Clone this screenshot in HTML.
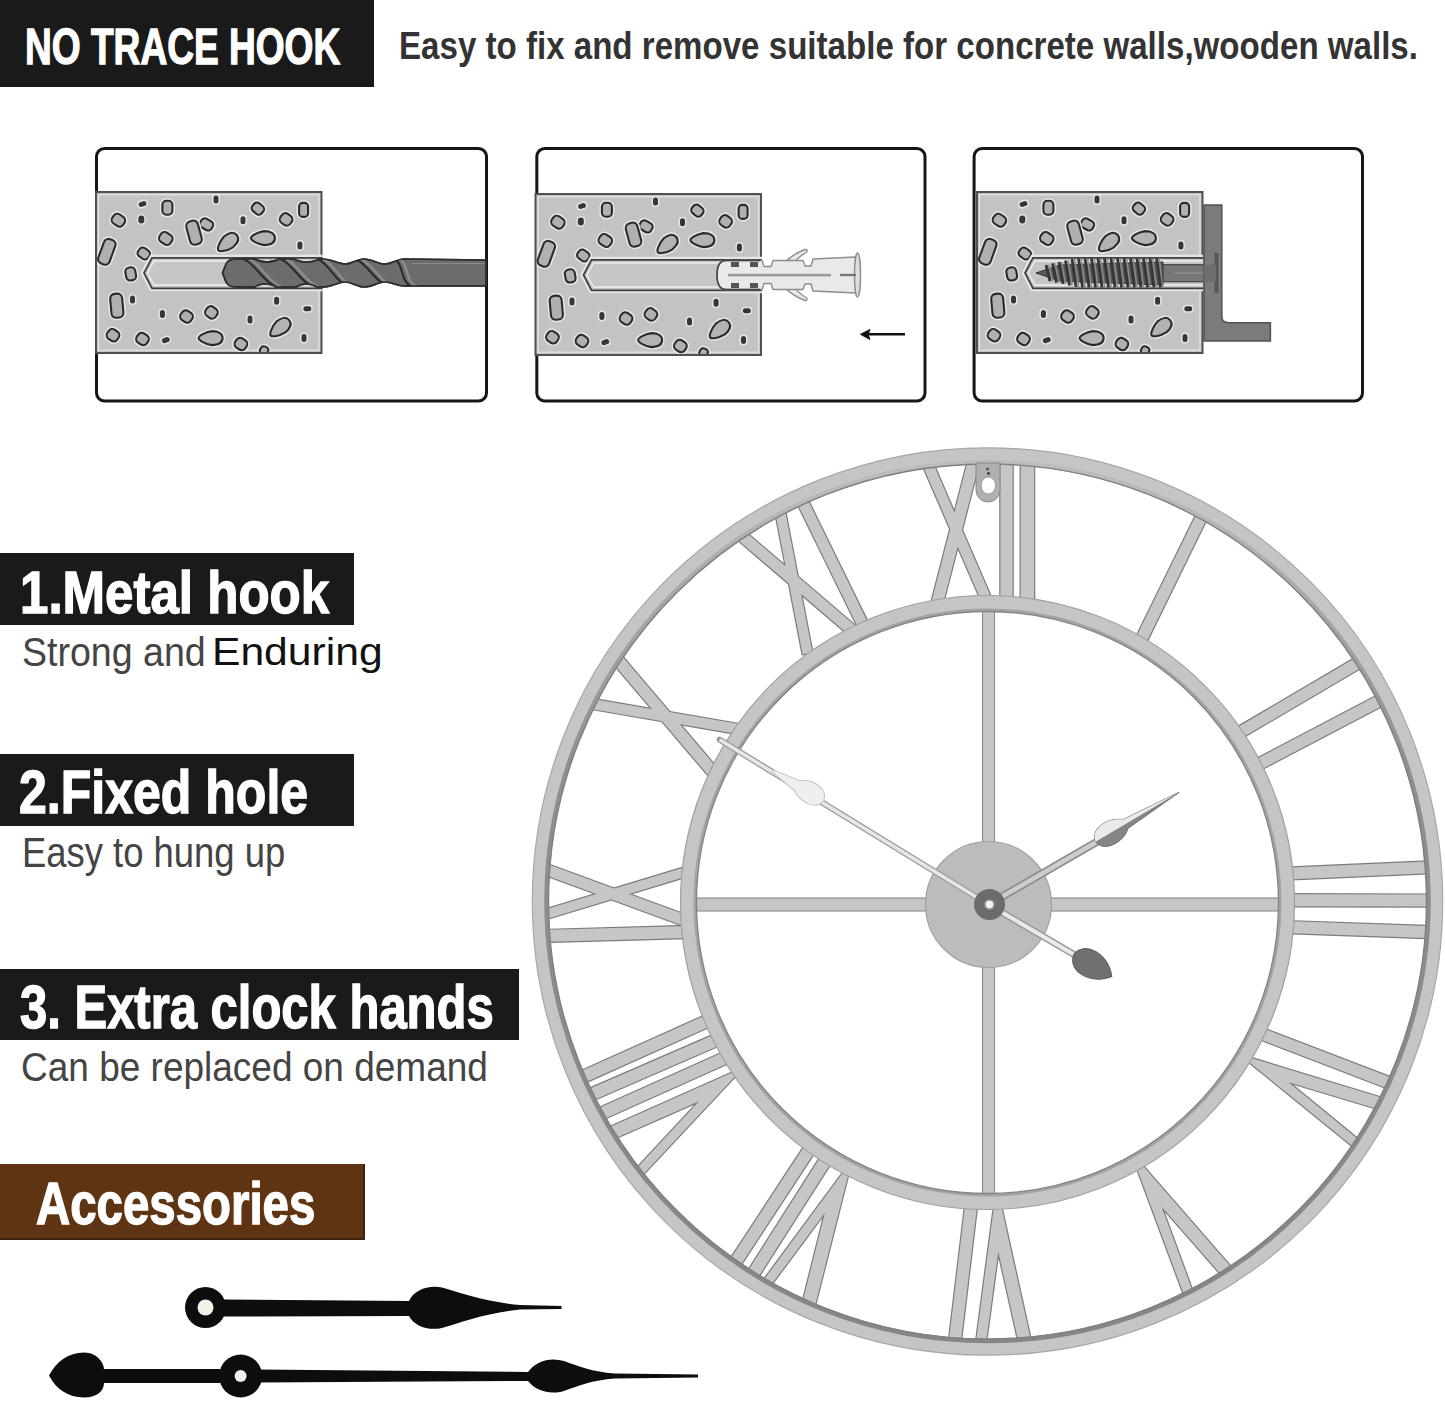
<!DOCTYPE html>
<html><head><meta charset="utf-8"><style>
html,body{margin:0;padding:0;background:#fff;}
body{width:1445px;height:1402px;position:relative;overflow:hidden;font-family:"Liberation Sans",sans-serif;}
svg{position:absolute;left:0;top:0;}
</style></head><body>
<div style="position:absolute;left:0px;top:0px;width:374px;height:87px;background:#1a1a1a"></div><div style="position:absolute;left:25.4px;top:18.3px;font-size:49.42px;font-weight:bold;color:#fff;white-space:pre;line-height:normal;transform:scaleX(0.7507);transform-origin:0 0;-webkit-text-stroke:1.3px #fff;">NO TRACE HOOK</div><div style="position:absolute;left:399.2px;top:24.3px;font-size:38.95px;font-weight:bold;color:#333;white-space:pre;line-height:normal;transform:scaleX(0.8500);transform-origin:0 0;">Easy to fix and remove suitable for concrete walls,wooden walls.</div><div style="position:absolute;left:0px;top:553px;width:354px;height:72px;background:#1a1a1a"></div><div style="position:absolute;left:20.3px;top:558.0px;font-size:60.03px;font-weight:bold;color:#fff;white-space:pre;line-height:normal;transform:scaleX(0.8504);transform-origin:0 0;-webkit-text-stroke:1.4px #fff;">1.Metal hook</div><div style="position:absolute;left:21.9px;top:628.8px;font-size:41.28px;font-weight:normal;color:#444;white-space:pre;line-height:normal;transform:scaleX(0.9100);transform-origin:0 0;">Strong and</div><div style="position:absolute;left:212.1px;top:629.5px;font-size:38.23px;font-weight:normal;color:#111;white-space:pre;line-height:normal;transform:scaleX(1.1150);transform-origin:0 0;">Enduring</div><div style="position:absolute;left:0px;top:754px;width:354px;height:72px;background:#1a1a1a"></div><div style="position:absolute;left:19.4px;top:756.8px;font-size:61.05px;font-weight:bold;color:#fff;white-space:pre;line-height:normal;transform:scaleX(0.8195);transform-origin:0 0;-webkit-text-stroke:1.4px #fff;">2.Fixed hole</div><div style="position:absolute;left:21.6px;top:828.7px;font-size:42.01px;font-weight:normal;color:#444;white-space:pre;line-height:normal;transform:scaleX(0.8672);transform-origin:0 0;">Easy to hung up</div><div style="position:absolute;left:0px;top:969px;width:519px;height:71px;background:#1a1a1a"></div><div style="position:absolute;left:19.7px;top:971.7px;font-size:60.76px;font-weight:bold;color:#fff;white-space:pre;line-height:normal;transform:scaleX(0.8063);transform-origin:0 0;-webkit-text-stroke:1.4px #fff;">3. Extra clock hands</div><div style="position:absolute;left:21.4px;top:1043.9px;font-size:41.28px;font-weight:normal;color:#444;white-space:pre;line-height:normal;transform:scaleX(0.8965);transform-origin:0 0;">Can be replaced on demand</div><div style="position:absolute;left:0px;top:1164px;width:365px;height:75.5px;background:#5e3413"></div><div style="position:absolute;left:363px;top:1164px;width:2px;height:75.5px;background:#3a2410"></div><div style="position:absolute;left:0;top:1237.5px;width:365px;height:2px;background:#3a2410"></div><div style="position:absolute;left:36.0px;top:1169.0px;font-size:59.16px;font-weight:bold;color:#fff;white-space:pre;line-height:normal;transform:scaleX(0.8012);transform-origin:0 0;-webkit-text-stroke:1.4px #fff;">Accessories</div><svg width="1445" height="410" viewBox="0 0 1445 410" style="position:absolute;left:0;top:0"><defs><g id="blk"><rect x="0" y="0" width="225.5" height="161" fill="#c3c3c3"/><rect x="2.5" y="2.8" width="220.5" height="155.4" fill="none" stroke="#e4e4e4" stroke-width="1.2"/><clipPath id="bclip"><rect x="0" y="0" width="225.5" height="161"/></clipPath><g clip-path="url(#bclip)"><g transform="translate(46.5,12) rotate(-20)"><rect x="-5.5" y="-4" width="11" height="8" rx="4" fill="#e6e6e6"/><rect x="-4" y="-2.5" width="8" height="5" rx="2.5" fill="#363636"/></g><g transform="translate(71.4,15.8) rotate(0)"><rect x="-5" y="-7" width="10" height="14" rx="4" fill="#c0c0c0" stroke="#e8e8e8" stroke-width="5"/><rect x="-5" y="-7" width="10" height="14" rx="4" fill="#b0b0b0" stroke="#2b2b2b" stroke-width="2.1"/></g><g transform="translate(120,7.5) rotate(0)"><rect x="-4" y="-5.5" width="8" height="11" rx="4" fill="#e6e6e6"/><rect x="-2.5" y="-4" width="5" height="8" rx="2.5" fill="#363636"/></g><g transform="translate(161.9,16.6) rotate(40)"><rect x="-6" y="-5" width="12" height="10" rx="4" fill="#c0c0c0" stroke="#e8e8e8" stroke-width="5"/><rect x="-6" y="-5" width="12" height="10" rx="4" fill="#b0b0b0" stroke="#2b2b2b" stroke-width="2.1"/></g><g transform="translate(207.6,17.9) rotate(0)"><rect x="-4.5" y="-7" width="9" height="14" rx="3.6" fill="#c0c0c0" stroke="#e8e8e8" stroke-width="5"/><rect x="-4.5" y="-7" width="9" height="14" rx="3.6" fill="#b0b0b0" stroke="#2b2b2b" stroke-width="2.1"/></g><g transform="translate(22.4,28.2) rotate(35)"><rect x="-6.5" y="-5.5" width="13" height="11" rx="4.4" fill="#c0c0c0" stroke="#e8e8e8" stroke-width="5"/><rect x="-6.5" y="-5.5" width="13" height="11" rx="4.4" fill="#b0b0b0" stroke="#2b2b2b" stroke-width="2.1"/></g><g transform="translate(45.3,27.4) rotate(0)"><rect x="-4.5" y="-5.5" width="9" height="11" rx="4.5" fill="#e6e6e6"/><rect x="-3" y="-4" width="6" height="8" rx="3" fill="#363636"/></g><g transform="translate(147,28.2) rotate(0)"><rect x="-4" y="-5.5" width="8" height="11" rx="4" fill="#e6e6e6"/><rect x="-2.5" y="-4" width="5" height="8" rx="2.5" fill="#363636"/></g><g transform="translate(190.1,27.4) rotate(35)"><rect x="-6" y="-5.5" width="12" height="11" rx="4.4" fill="#c0c0c0" stroke="#e8e8e8" stroke-width="5"/><rect x="-6" y="-5.5" width="12" height="11" rx="4.4" fill="#b0b0b0" stroke="#2b2b2b" stroke-width="2.1"/></g><g transform="translate(110.5,32.4) rotate(30)"><rect x="-6.5" y="-5" width="13" height="10" rx="4" fill="#c0c0c0" stroke="#e8e8e8" stroke-width="5"/><rect x="-6.5" y="-5" width="13" height="10" rx="4" fill="#b0b0b0" stroke="#2b2b2b" stroke-width="2.1"/></g><g transform="translate(98,40.7) rotate(-15)"><rect x="-6" y="-12" width="12" height="24" rx="4.8" fill="#c0c0c0" stroke="#e8e8e8" stroke-width="5"/><rect x="-6" y="-12" width="12" height="24" rx="4.8" fill="#b0b0b0" stroke="#2b2b2b" stroke-width="2.1"/></g><g transform="translate(69.8,46.5) rotate(35)"><rect x="-6.5" y="-5.5" width="13" height="11" rx="4.4" fill="#c0c0c0" stroke="#e8e8e8" stroke-width="5"/><rect x="-6.5" y="-5.5" width="13" height="11" rx="4.4" fill="#b0b0b0" stroke="#2b2b2b" stroke-width="2.1"/></g><g transform="translate(131.6,50.7) rotate(-40)"><path d="M-12,0 C-12,-2.4 -5.4,-6 1.2,-7 C8.4,-7 12,-4.2 12,0 C12,4.2 8.4,7 1.2,7 C-5.4,6 -12,2.4 -12,0 Z" fill="#b9b9b9" stroke="#e8e8e8" stroke-width="5"/><path d="M-12,0 C-12,-2.4 -5.4,-6 1.2,-7 C8.4,-7 12,-4.2 12,0 C12,4.2 8.4,7 1.2,7 C-5.4,6 -12,2.4 -12,0 Z" fill="#b3b3b3" stroke="#2b2b2b" stroke-width="2.1"/></g><g transform="translate(166.9,46.1) rotate(0)"><path d="M-12,0 C-12,-2.4 -5.4,-6 1.2,-7 C8.4,-7 12,-4.2 12,0 C12,4.2 8.4,7 1.2,7 C-5.4,6 -12,2.4 -12,0 Z" fill="#b9b9b9" stroke="#e8e8e8" stroke-width="5"/><path d="M-12,0 C-12,-2.4 -5.4,-6 1.2,-7 C8.4,-7 12,-4.2 12,0 C12,4.2 8.4,7 1.2,7 C-5.4,6 -12,2.4 -12,0 Z" fill="#b3b3b3" stroke="#2b2b2b" stroke-width="2.1"/></g><g transform="translate(203.9,53.6) rotate(0)"><rect x="-4" y="-5.5" width="8" height="11" rx="4" fill="#e6e6e6"/><rect x="-2.5" y="-4" width="5" height="8" rx="2.5" fill="#363636"/></g><g transform="translate(10.8,59.8) rotate(20)"><rect x="-6" y="-13" width="12" height="26" rx="4.8" fill="#c0c0c0" stroke="#e8e8e8" stroke-width="5"/><rect x="-6" y="-13" width="12" height="26" rx="4.8" fill="#b0b0b0" stroke="#2b2b2b" stroke-width="2.1"/></g><g transform="translate(47.8,61.5) rotate(35)"><rect x="-6" y="-5" width="12" height="10" rx="4" fill="#c0c0c0" stroke="#e8e8e8" stroke-width="5"/><rect x="-6" y="-5" width="12" height="10" rx="4" fill="#b0b0b0" stroke="#2b2b2b" stroke-width="2.1"/></g><g transform="translate(34.7,81.9) rotate(-10)"><rect x="-5" y="-6.5" width="10" height="13" rx="4" fill="#c0c0c0" stroke="#e8e8e8" stroke-width="5"/><rect x="-5" y="-6.5" width="10" height="13" rx="4" fill="#b0b0b0" stroke="#2b2b2b" stroke-width="2.1"/></g><g transform="translate(20.8,113.7) rotate(-5)"><rect x="-6" y="-12" width="12" height="24" rx="4.8" fill="#c0c0c0" stroke="#e8e8e8" stroke-width="5"/><rect x="-6" y="-12" width="12" height="24" rx="4.8" fill="#b0b0b0" stroke="#2b2b2b" stroke-width="2.1"/></g><g transform="translate(36.5,107.5) rotate(0)"><rect x="-4" y="-5.5" width="8" height="11" rx="4" fill="#e6e6e6"/><rect x="-2.5" y="-4" width="5" height="8" rx="2.5" fill="#363636"/></g><g transform="translate(66.4,122) rotate(0)"><rect x="-4" y="-5.5" width="8" height="11" rx="4" fill="#e6e6e6"/><rect x="-2.5" y="-4" width="5" height="8" rx="2.5" fill="#363636"/></g><g transform="translate(90.5,124.5) rotate(35)"><rect x="-6" y="-5.5" width="12" height="11" rx="4.4" fill="#c0c0c0" stroke="#e8e8e8" stroke-width="5"/><rect x="-6" y="-5.5" width="12" height="11" rx="4.4" fill="#b0b0b0" stroke="#2b2b2b" stroke-width="2.1"/></g><g transform="translate(115.4,120.4) rotate(35)"><rect x="-6" y="-5.5" width="12" height="11" rx="4.4" fill="#c0c0c0" stroke="#e8e8e8" stroke-width="5"/><rect x="-6" y="-5.5" width="12" height="11" rx="4.4" fill="#b0b0b0" stroke="#2b2b2b" stroke-width="2.1"/></g><g transform="translate(17,143.2) rotate(35)"><rect x="-6" y="-5.5" width="12" height="11" rx="4.4" fill="#c0c0c0" stroke="#e8e8e8" stroke-width="5"/><rect x="-6" y="-5.5" width="12" height="11" rx="4.4" fill="#b0b0b0" stroke="#2b2b2b" stroke-width="2.1"/></g><g transform="translate(46.5,147) rotate(35)"><rect x="-6" y="-5.5" width="12" height="11" rx="4.4" fill="#c0c0c0" stroke="#e8e8e8" stroke-width="5"/><rect x="-6" y="-5.5" width="12" height="11" rx="4.4" fill="#b0b0b0" stroke="#2b2b2b" stroke-width="2.1"/></g><g transform="translate(69.8,148.2) rotate(-20)"><rect x="-5.5" y="-4" width="11" height="8" rx="4" fill="#e6e6e6"/><rect x="-4" y="-2.5" width="8" height="5" rx="2.5" fill="#363636"/></g><g transform="translate(114.6,146.1) rotate(0)"><path d="M-12,0 C-12,-2.4 -5.4,-6 1.2,-7 C8.4,-7 12,-4.2 12,0 C12,4.2 8.4,7 1.2,7 C-5.4,6 -12,2.4 -12,0 Z" fill="#b9b9b9" stroke="#e8e8e8" stroke-width="5"/><path d="M-12,0 C-12,-2.4 -5.4,-6 1.2,-7 C8.4,-7 12,-4.2 12,0 C12,4.2 8.4,7 1.2,7 C-5.4,6 -12,2.4 -12,0 Z" fill="#b3b3b3" stroke="#2b2b2b" stroke-width="2.1"/></g><g transform="translate(180.6,108.8) rotate(0)"><rect x="-4" y="-5.5" width="8" height="11" rx="4" fill="#e6e6e6"/><rect x="-2.5" y="-4" width="5" height="8" rx="2.5" fill="#363636"/></g><g transform="translate(211.3,116.7) rotate(0)"><rect x="-5.5" y="-4" width="11" height="8" rx="4" fill="#e6e6e6"/><rect x="-4" y="-2.5" width="8" height="5" rx="2.5" fill="#363636"/></g><g transform="translate(154,127.5) rotate(0)"><rect x="-4" y="-5.5" width="8" height="11" rx="4" fill="#e6e6e6"/><rect x="-2.5" y="-4" width="5" height="8" rx="2.5" fill="#363636"/></g><g transform="translate(183.9,135.8) rotate(-40)"><path d="M-12,0 C-12,-2.4 -5.4,-6 1.2,-7 C8.4,-7 12,-4.2 12,0 C12,4.2 8.4,7 1.2,7 C-5.4,6 -12,2.4 -12,0 Z" fill="#b9b9b9" stroke="#e8e8e8" stroke-width="5"/><path d="M-12,0 C-12,-2.4 -5.4,-6 1.2,-7 C8.4,-7 12,-4.2 12,0 C12,4.2 8.4,7 1.2,7 C-5.4,6 -12,2.4 -12,0 Z" fill="#b3b3b3" stroke="#2b2b2b" stroke-width="2.1"/></g><g transform="translate(208,146.1) rotate(0)"><rect x="-4" y="-5.5" width="8" height="11" rx="4" fill="#e6e6e6"/><rect x="-2.5" y="-4" width="5" height="8" rx="2.5" fill="#363636"/></g><g transform="translate(144.9,152) rotate(35)"><rect x="-6" y="-5.5" width="12" height="11" rx="4.4" fill="#c0c0c0" stroke="#e8e8e8" stroke-width="5"/><rect x="-6" y="-5.5" width="12" height="11" rx="4.4" fill="#b0b0b0" stroke="#2b2b2b" stroke-width="2.1"/></g><g transform="translate(168.1,158.5) rotate(30)"><rect x="-4" y="-4" width="8" height="8" rx="3.2" fill="#c0c0c0" stroke="#e8e8e8" stroke-width="5"/><rect x="-4" y="-4" width="8" height="8" rx="3.2" fill="#b0b0b0" stroke="#2b2b2b" stroke-width="2.1"/></g></g><rect x="0" y="0" width="225.5" height="161" fill="none" stroke="#505050" stroke-width="2"/><path d="M226.5,65.8 L56,65.8 L48,81 L56,96.3 L226.5,96.3" fill="#c9c9c9" stroke="#e6e6e6" stroke-width="6"/><path d="M226.5,65.8 L56,65.8 L48,81 L56,96.3 L226.5,96.3" fill="#c6c6c6" stroke="#404040" stroke-width="1.8"/><path d="M225.5,69 L58,69 L51.5,81 L58,93 L225.5,93" fill="none" stroke="#f0f0f0" stroke-width="1.3"/></g></defs><rect x="96.5" y="148.5" width="390" height="252.5" rx="8" fill="#fff" stroke="#161616" stroke-width="3"/><rect x="536.8" y="148.5" width="388.2" height="252.5" rx="8" fill="#fff" stroke="#161616" stroke-width="3"/><rect x="974.1" y="148.5" width="388.4" height="252.5" rx="8" fill="#fff" stroke="#161616" stroke-width="3"/><use href="#blk" x="96" y="192"/><g><clipPath id="drc"><path d="M222.5,273 L226,264 C228,260 231,259 236,259 L255,259 C262,263 272,263 279,259 L294,259 C301,263 312,263 319,259 L322,259 C332,259 338,264 345,264 C352,264 357,259 364,259 C372,259 378,264 385,264 C392,264 397,259 404,259 L486,260 L486,286 L404,286 C397,286 392,282 385,282 C378,282 372,287 364,287 C357,287 352,282 345,282 C338,282 332,287 322,287 L317,287 C311,283 302,283 296,287 L276,287 C270,283 260,283 255,287 L236,287 C231,287 228,286 226,282 Z"/></clipPath><path d="M222.5,273 L226,264 C228,260 231,259 236,259 L255,259 C262,263 272,263 279,259 L294,259 C301,263 312,263 319,259 L322,259 C332,259 338,264 345,264 C352,264 357,259 364,259 C372,259 378,264 385,264 C392,264 397,259 404,259 L486,260 L486,286 L404,286 C397,286 392,282 385,282 C378,282 372,287 364,287 C357,287 352,282 345,282 C338,282 332,287 322,287 L317,287 C311,283 302,283 296,287 L276,287 C270,283 260,283 255,287 L236,287 C231,287 228,286 226,282 Z" fill="#6c6c6c" stroke="#2f2f2f" stroke-width="1.6" stroke-linejoin="round"/><g clip-path="url(#drc)"><path d="M244,259.5 C254,262 264,283 276,286.5 M281,259.5 C291,262 301,283 313,286.5 M318,259.5 C328,262 336,283 348,286.5 M356,259.5 C366,262 376,283 388,286.5 M394,259.5 C404,262 400,283 412,286.5 " fill="none" stroke="#2a2a2a" stroke-width="2"/><path d="M244,259.5 C254,262 264,283 276,286.5 M281,259.5 C291,262 301,283 313,286.5 M318,259.5 C328,262 336,283 348,286.5 M356,259.5 C366,262 376,283 388,286.5 M394,259.5 C404,262 400,283 412,286.5 " transform="translate(5,0)" fill="none" stroke="#8a8a8a" stroke-width="2.6"/></g><path d="M222.5,273 L226,264 C228,260 231,259 236,259 L255,259 C262,263 272,263 279,259 L294,259 C301,263 312,263 319,259 L322,259 C332,259 338,264 345,264 C352,264 357,259 364,259 C372,259 378,264 385,264 C392,264 397,259 404,259 L486,260 L486,286 L404,286 C397,286 392,282 385,282 C378,282 372,287 364,287 C357,287 352,282 345,282 C338,282 332,287 322,287 L317,287 C311,283 302,283 296,287 L276,287 C270,283 260,283 255,287 L236,287 C231,287 228,286 226,282 Z" fill="none" stroke="#2f2f2f" stroke-width="1.6" stroke-linejoin="round"/><line x1="412" y1="263.5" x2="485" y2="263.5" stroke="#8a8a8a" stroke-width="1.2"/></g><use href="#blk" x="535.5" y="194"/><g fill="#e9e9e9" stroke="#8d8d8d" stroke-width="1.4" stroke-linejoin="round"><path d="M784,263 C790,257 798,252 805,249.5 C807,249 808,251 806,252.5 C800,256 795,261 792,266 Z"/><path d="M784,287 C790,293 798,298 805,300.5 C807,301 808,299 806,297.5 C800,294 795,289 792,284 Z"/><path d="M726,260.5 L762,260.5 L764,266.5 L771,266.5 L773,260.5 L803,260.5 L805,266 L811,266 L813,259 L856,257 L856,293 L813,291 L811,284 L805,284 L803,289.5 L773,289.5 L771,283.5 L764,283.5 L762,289.5 L726,289.5 Q717,289.5 717,275 Q717,260.5 726,260.5 Z"/><ellipse cx="857.5" cy="275" rx="3" ry="22" fill="#dedede"/></g><g fill="#555" stroke="none"><rect x="728" y="273.8" width="103" height="2.6" fill="#9a9a9a"/><rect x="840" y="273.8" width="16" height="2.4" fill="#777"/><rect x="731" y="262" width="8" height="5"/><rect x="731" y="283" width="8" height="5"/><rect x="750" y="262" width="8" height="5"/><rect x="750" y="283" width="8" height="5"/><path d="M726,260.5 L760,260.5 M726,289.5 L760,289.5 M726,260.5 Q717,260.5 717,275 Q717,289.5 726,289.5" fill="none" stroke="#444" stroke-width="1.6"/></g><line x1="868" y1="334.3" x2="905" y2="334.3" stroke="#111" stroke-width="2.6"/><path d="M860.5,334.3 L870,329.5 L868,334.3 L870,339.5 Z" fill="#111" stroke="#111" stroke-width="1"/><use href="#blk" x="977" y="192"/><path d="M1036,273 L1060,265 L1163,262 L1163,285 L1060,281 Z" fill="#5a5a5a" stroke="#333" stroke-width="1"/><path d="M1046,264.8 L1050,281.2 M1052.5,263.4 L1056.5,282.6 M1059,261.9 L1063,284.1 M1065.5,260.5 L1069.5,285.5 M1072,259.1 L1076,286.9 M1078.5,258.5 L1082.5,287.5 M1085,258.5 L1089,287.5 M1091.5,258.5 L1095.5,287.5 M1098,258.5 L1102,287.5 M1104.5,258.5 L1108.5,287.5 M1111,258.5 L1115,287.5 M1117.5,258.5 L1121.5,287.5 M1124,258.5 L1128,287.5 M1130.5,258.5 L1134.5,287.5 M1137,258.5 L1141,287.5 M1143.5,258.5 L1147.5,287.5 M1150,258.5 L1154,287.5 M1156.5,258.5 L1160.5,287.5 " stroke="#363636" stroke-width="2.8" fill="none"/><path d="M1046,264.8 L1050,281.2 M1052.5,263.4 L1056.5,282.6 M1059,261.9 L1063,284.1 M1065.5,260.5 L1069.5,285.5 M1072,259.1 L1076,286.9 M1078.5,258.5 L1082.5,287.5 M1085,258.5 L1089,287.5 M1091.5,258.5 L1095.5,287.5 M1098,258.5 L1102,287.5 M1104.5,258.5 L1108.5,287.5 M1111,258.5 L1115,287.5 M1117.5,258.5 L1121.5,287.5 M1124,258.5 L1128,287.5 M1130.5,258.5 L1134.5,287.5 M1137,258.5 L1141,287.5 M1143.5,258.5 L1147.5,287.5 M1150,258.5 L1154,287.5 M1156.5,258.5 L1160.5,287.5 " transform="translate(2.6,0)" stroke="#8a8a8a" stroke-width="1.6" fill="none"/><rect x="1163" y="264.7" width="50" height="17" fill="#777" stroke="#444" stroke-width="1.2"/><line x1="1175" y1="273" x2="1212" y2="273" stroke="#999" stroke-width="1.2"/><path d="M1204,205 L1221.8,205 L1221.8,316 Q1221.8,322.7 1228.5,322.7 L1270.4,322.7 L1270.4,341 L1204,341 Z" fill="#7b7b7b" stroke="#505050" stroke-width="1.5"/><rect x="1214.5" y="253" width="4" height="40" fill="#565656"/><rect x="1204" y="264.7" width="12" height="17" fill="#6d6d6d"/></svg><svg width="1445" height="1402" viewBox="0 0 1445 1402" style="position:absolute;left:0;top:0"><defs><clipPath id="band"><path clip-rule="evenodd" d="M987.5,901.5 m-446,0 a446,446 0 1,0 892,0 a446,446 0 1,0 -892,0 Z M987.5,901.5 m-303,0 a303,303 0 1,0 606,0 a303,303 0 1,0 -606,0 Z"/></clipPath></defs><g clip-path="url(#band)" fill="#c6c6c6" stroke="#7c7c7c" stroke-width="2.4" stroke-linejoin="round"><polygon points="992.9,601.5 930.1,456.3 920.5,460.4 983.3,605.6"/><polygon points="942.5,605.4 980.1,459.4 968.9,456.5 931.3,602.5"/><polygon points="1012.6,604 1012.6,455 1000.4,455 1000.4,604"/><polygon points="1034.1,605 1034.1,456 1020.7,456 1020.7,605"/><polygon points="1144.5,646.1 1210.3,511.8 1200,506.8 1134.2,641.1"/><polygon points="1242.1,737.8 1365.4,665.3 1359.6,655.4 1236.3,727.9"/><polygon points="1258.8,770.7 1386,703.9 1380.6,693.7 1253.4,760.5"/><polygon points="1286.5,879.6 1433.9,873.1 1433.3,861.2 1285.9,867.7"/><polygon points="1288,906.2 1434.8,906.6 1434.8,894.6 1288,894.2"/><polygon points="1286,933.1 1433.4,938.3 1433.8,926.3 1286.4,921.1"/><polygon points="1258.9,1039 1391.5,1089.9 1395.6,1079.2 1263,1028.3"/><polygon points="965.5,1201.8 948.4,1345.1 960.3,1346.6 977.4,1203.3"/><polygon points="804.8,1145.4 728.9,1261.2 738.9,1267.8 814.8,1152"/><polygon points="821.1,1156 746.6,1273 756.8,1279.5 831.3,1162.5"/><polygon points="706.6,1014.7 576.7,1073.1 581.7,1084.1 711.6,1025.7"/><polygon points="716.1,1033.7 585,1090.7 589.8,1101.7 720.9,1044.7"/><polygon points="725.5,1051.3 595.5,1109.6 600.5,1120.5 730.5,1062.2"/><polygon points="688.9,916.1 543.1,862.6 539.3,872.9 685.1,926.4"/><polygon points="686.4,866.7 539.1,911.3 541.8,920.4 689.1,875.8"/><polygon points="687.3,926 541.1,930.1 541.5,942.1 687.7,938"/><polygon points="719.7,771.1 619.2,652.8 610.4,660.2 710.9,778.5"/><polygon points="739.3,724.1 590.1,698.5 588.4,708.4 737.6,734"/><polygon points="856.8,627.1 741.8,528.8 734.6,537.2 849.6,635.5"/><polygon points="812.4,652.4 784.3,506.6 774.5,508.5 802.6,654.3"/><polygon points="868.1,622.9 806.2,496.6 796.3,501.4 858.2,627.7"/><polygon points="1239.7,1054.5 1386.9,1099.3 1383.4,1110.7 1288.5,1082.2 1361.4,1141.9 1355.7,1148.8"/><polygon points="1130.9,1152 1186.6,1302.1 1195.5,1298.9 1161.6,1206.7 1223.4,1277.2 1232.8,1269"/><polygon points="996.7,1185.7 975.3,1347.3 985.2,1348.6 998.3,1251.8 1019.6,1347.2 1031.8,1344.4"/><polygon points="851.8,1160.7 814.4,1308.3 801.8,1305.2 824.9,1212.8 769.2,1287.6 762,1282.2"/><polygon points="743.4,1067.5 606.4,1128.5 611.4,1139.9 699,1101.3 634.8,1170.3 641.3,1176.4"/></g><g clip-path="url(#band)" fill="#c6c6c6" stroke="none"><polygon points="992.9,601.5 930.1,456.3 920.5,460.4 983.3,605.6"/><polygon points="942.5,605.4 980.1,459.4 968.9,456.5 931.3,602.5"/><polygon points="1012.6,604 1012.6,455 1000.4,455 1000.4,604"/><polygon points="1034.1,605 1034.1,456 1020.7,456 1020.7,605"/><polygon points="1144.5,646.1 1210.3,511.8 1200,506.8 1134.2,641.1"/><polygon points="1242.1,737.8 1365.4,665.3 1359.6,655.4 1236.3,727.9"/><polygon points="1258.8,770.7 1386,703.9 1380.6,693.7 1253.4,760.5"/><polygon points="1286.5,879.6 1433.9,873.1 1433.3,861.2 1285.9,867.7"/><polygon points="1288,906.2 1434.8,906.6 1434.8,894.6 1288,894.2"/><polygon points="1286,933.1 1433.4,938.3 1433.8,926.3 1286.4,921.1"/><polygon points="1258.9,1039 1391.5,1089.9 1395.6,1079.2 1263,1028.3"/><polygon points="965.5,1201.8 948.4,1345.1 960.3,1346.6 977.4,1203.3"/><polygon points="804.8,1145.4 728.9,1261.2 738.9,1267.8 814.8,1152"/><polygon points="821.1,1156 746.6,1273 756.8,1279.5 831.3,1162.5"/><polygon points="706.6,1014.7 576.7,1073.1 581.7,1084.1 711.6,1025.7"/><polygon points="716.1,1033.7 585,1090.7 589.8,1101.7 720.9,1044.7"/><polygon points="725.5,1051.3 595.5,1109.6 600.5,1120.5 730.5,1062.2"/><polygon points="688.9,916.1 543.1,862.6 539.3,872.9 685.1,926.4"/><polygon points="686.4,866.7 539.1,911.3 541.8,920.4 689.1,875.8"/><polygon points="687.3,926 541.1,930.1 541.5,942.1 687.7,938"/><polygon points="719.7,771.1 619.2,652.8 610.4,660.2 710.9,778.5"/><polygon points="739.3,724.1 590.1,698.5 588.4,708.4 737.6,734"/><polygon points="856.8,627.1 741.8,528.8 734.6,537.2 849.6,635.5"/><polygon points="812.4,652.4 784.3,506.6 774.5,508.5 802.6,654.3"/><polygon points="868.1,622.9 806.2,496.6 796.3,501.4 858.2,627.7"/><polygon points="1239.7,1054.5 1386.9,1099.3 1383.4,1110.7 1288.5,1082.2 1361.4,1141.9 1355.7,1148.8"/><polygon points="1130.9,1152 1186.6,1302.1 1195.5,1298.9 1161.6,1206.7 1223.4,1277.2 1232.8,1269"/><polygon points="996.7,1185.7 975.3,1347.3 985.2,1348.6 998.3,1251.8 1019.6,1347.2 1031.8,1344.4"/><polygon points="851.8,1160.7 814.4,1308.3 801.8,1305.2 824.9,1212.8 769.2,1287.6 762,1282.2"/><polygon points="743.4,1067.5 606.4,1128.5 611.4,1139.9 699,1101.3 634.8,1170.3 641.3,1176.4"/></g><ellipse cx="987.5" cy="901.5" rx="447" ry="445.5" fill="none" stroke="#c5c5c5" stroke-width="16.5"/><ellipse cx="987.5" cy="901.5" rx="455.2" ry="453.7" fill="none" stroke="#a8a8a8" stroke-width="1.2"/><defs><linearGradient id="face" gradientUnits="userSpaceOnUse" x1="0" y1="460" x2="0" y2="1340"><stop offset="0" stop-color="#bdbdbd"/><stop offset="0.35" stop-color="#8f8f8f"/><stop offset="1" stop-color="#868686"/></linearGradient></defs><ellipse cx="987.5" cy="901.5" rx="441" ry="439.5" fill="none" stroke="url(#face)" stroke-width="4.5"/><ellipse cx="987.5" cy="901.5" rx="439" ry="437.5" fill="none" stroke="#808080" stroke-width="1.4"/><rect x="982.5" y="605" width="12" height="595" fill="#c6c6c6" stroke="#8a8a8a" stroke-width="1.1"/><rect x="690" y="898" width="595" height="13" fill="#c6c6c6" stroke="#8a8a8a" stroke-width="1.1"/><circle cx="987.5" cy="902.5" r="299" fill="none" stroke="#c5c5c5" stroke-width="16"/><circle cx="987.5" cy="902.5" r="307" fill="none" stroke="#a0a0a0" stroke-width="1.2"/><circle cx="987.5" cy="902.5" r="292.5" fill="none" stroke="#a2a2a2" stroke-width="3"/><circle cx="987.5" cy="902.5" r="291" fill="none" stroke="#858585" stroke-width="1.3"/><path d="M976,463 L1000,463 L1000,490 A12,12 0 0 1 976,490 Z" fill="#b0b0b0" stroke="#888" stroke-width="1"/><ellipse cx="988.3" cy="485.5" rx="7.3" ry="8.6" fill="#fff" stroke="#999" stroke-width="1"/><circle cx="987.5" cy="469" r="1.3" fill="#444"/><circle cx="988.5" cy="473.5" r="1.4" fill="#3a3a3a"/><circle cx="988.5" cy="904.5" r="63" fill="#bcbcbc" stroke="#a0a0a0" stroke-width="1.2"/><line x1="988.5" y1="904.5" x2="719.7" y2="739.7" stroke="#9a9a9a" stroke-width="6" stroke-linecap="round"/><line x1="988.5" y1="904.5" x2="719.7" y2="739.7" stroke="#e6e6e6" stroke-width="3.6"/><g transform="translate(805,791) rotate(-148.5)"><path d="M-21,1 C-19,-11 -2,-12 10,-5 L38,-1 L38,1.5 L10,6 C-2,15 -19,14 -21,1 Z" fill="#efefef" stroke="#c4c4c4" stroke-width="1"/></g><line x1="988.5" y1="904.5" x2="1080" y2="958" stroke="#9a9a9a" stroke-width="7"/><line x1="988.5" y1="904.5" x2="1080" y2="958" stroke="#eaeaea" stroke-width="4"/><g transform="translate(1092,965) rotate(30.4)"><path d="M-21,0 C-19,-17 8,-19 23,0 C8,19 -19,17 -21,0 Z" fill="#707070" stroke="#5e5e5e" stroke-width="1"/></g><line x1="988.5" y1="904.5" x2="1100" y2="840" stroke="#8e8e8e" stroke-width="8"/><line x1="988.5" y1="904.5" x2="1100" y2="840" stroke="#cdcdcd" stroke-width="4.5"/><g transform="translate(1112,832) rotate(-30.6)"><path d="M-19,0 C-17,-14 4,-15 16,-5 L78,0 L16,5 C4,15 -17,14 -19,0 Z" fill="#858585" stroke="#777" stroke-width="1"/><path d="M-19,0 C-17,-14 4,-15 16,-5 L78,0 Z" fill="#eaeaea"/></g><circle cx="989.5" cy="904.5" r="15.5" fill="#6c6c6c"/><circle cx="989.5" cy="904.5" r="4.5" fill="#f4f4f4" stroke="#999" stroke-width="1.6"/></svg><svg width="1445" height="1402" viewBox="0 0 1445 1402" style="position:absolute;left:0;top:0"><g fill="#0d0d0d"><circle cx="205.5" cy="1307.5" r="20.5"/><path d="M222,1299.5 L409,1301 C414,1290 428,1285 442,1287.5 C462,1293 486,1302 520,1305 L561.5,1306 L561.5,1309 L520,1309.5 C486,1313 462,1322 442,1328 C428,1331 414,1326 409,1316 L222,1316.5 Z"/><path d="M49,1375.5 C56,1362 68,1352.5 84,1352.5 C98,1352.5 104,1364 104,1369 L220,1369 L220,1383 L104,1383 C104,1390 98,1397.5 84,1397.5 C68,1397.5 56,1389 49,1375.5 Z"/><circle cx="240.6" cy="1376" r="21.5"/><path d="M258,1369.5 L528,1372 C536,1361 550,1357 564,1361 C578,1366 592,1372 615,1373.5 L698,1374.5 L698,1377.5 L615,1378.5 C592,1380 578,1386 564,1391 C550,1395 536,1391 528,1381 L258,1382.5 Z"/></g><circle cx="205.5" cy="1307.5" r="8" fill="#f4f1e6"/><circle cx="240.6" cy="1376" r="6" fill="#f4f1e6"/></svg>
</body></html>
